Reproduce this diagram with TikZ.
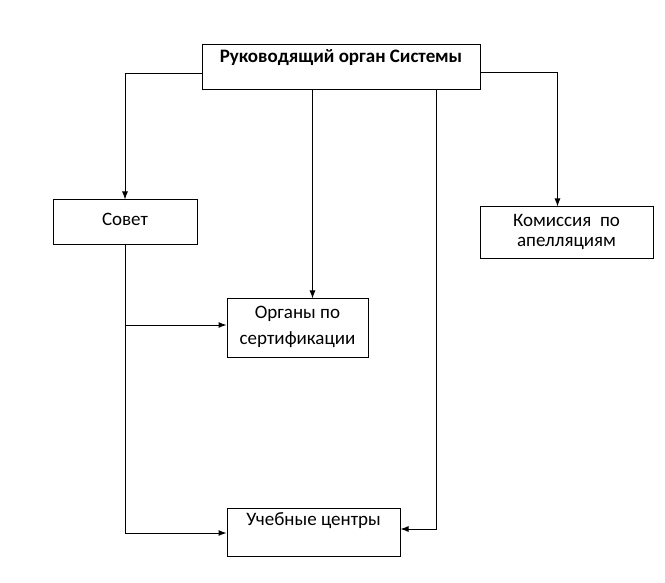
\documentclass[tikz,border=0pt]{standalone}
\usepackage{fontspec}
\setmainfont{Carlito}
\usetikzlibrary{arrows.meta,calc}
\tikzset{
  box/.style={draw, line width=1pt, rectangle, inner sep=0pt},
  lbl/.style={font=\fontsize{19}{22}\selectfont, inner sep=0pt, anchor=center},
  conn/.style={line width=1pt},
  arr/.style={line width=1pt, -{Latex[length=8pt,width=6pt]}}
}
\begin{document}
\begin{tikzpicture}[x=1pt,y=-1pt]
\useasboundingbox (0,0) rectangle (665,583);
% boxes
\node[box, minimum width=278pt, minimum height=45pt] (top) at (341,67.5) {};
\node[box, minimum width=144pt, minimum height=45pt] (sovet) at (125,222.5) {};
\node[box, minimum width=173pt, minimum height=52pt] (kom) at (566.5,233) {};
\node[box, minimum width=141pt, minimum height=58pt] (org) at (297.5,328) {};
\node[box, minimum width=173pt, minimum height=48pt] (uch) at (313.5,532) {};
% texts
\node[lbl, font=\fontsize{19}{22}\selectfont\bfseries] (ttop) at (341,58) {Руководящий орган Системы};
\node[lbl] (tsovet) at (125,219) {Совет};
\node[lbl] (tkom1) at (566.5,220) {Комиссия\ \ по};
\node[lbl] (tkom2) at (566.5,243) {апелляциям};
\node[lbl] (torg1) at (297.5,314) {Органы по};
\node[lbl] (torg2) at (297.5,340) {сертификации};
\node[lbl] (tuch) at (313.5,521) {Учебные центры};
% connectors
\coordinate (lj) at ($(top.north west)+(0,29)$);
\draw[arr] (lj) -| (sovet.north);
\coordinate (rj) at ($(top.north east)+(0,28)$);
\coordinate (kj) at ($(kom.north west)+(78,0)$);
\draw[arr] (rj) -| (kj);
\draw[arr] ($(top.south west)+(111,0)$) -- ($(org.north west)+(86,0)$);
\draw[arr] ($(top.south west)+(235,0)$) |- ($(uch.east)+(0,-3)$);
\draw[arr] (sovet.south) |- ($(uch.west)+(0,1)$);
\coordinate (oj) at ($(org.west)+(0,-3)$);
\draw[arr] (sovet.south |- oj) -- (oj);
\end{tikzpicture}
\end{document}
